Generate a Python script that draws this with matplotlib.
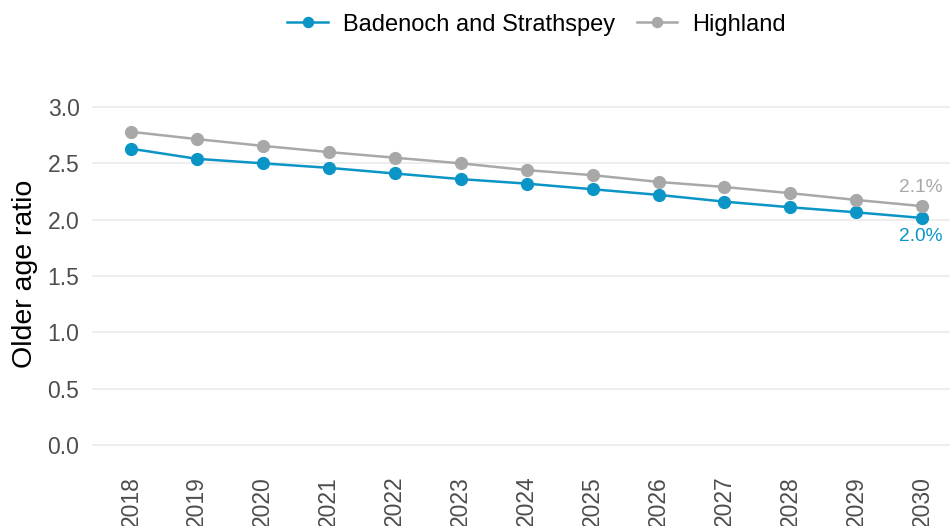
import matplotlib
matplotlib.use("Agg")
import matplotlib.pyplot as plt

years = list(range(2018, 2031))
badenoch = [2.63, 2.54, 2.50, 2.46, 2.41, 2.36, 2.32, 2.27, 2.22, 2.16, 2.11, 2.065, 2.015]
highland = [2.78, 2.715, 2.655, 2.60, 2.55, 2.50, 2.44, 2.395, 2.335, 2.29, 2.235, 2.175, 2.12]
series_names = ["Badenoch and Strathspey", "Highland"]
end_labels = ["2.0%", "2.1%"]
yticks = [0.0, 0.5, 1.0, 1.5, 2.0, 2.5, 3.0]

blue = "#0a95c6"
grey = "#a8a8a8"

plt.rcParams['font.family'] = ['Liberation Sans', 'DejaVu Sans']

fig = plt.figure(figsize=(9.52, 5.26), dpi=100)
ax = fig.add_axes([92/952, 1-461.9/526, (950-92)/952, (461.9-90.1)/526])

ax.plot(years, badenoch, color=blue, lw=1.8, marker='o', ms=8.5, label=series_names[0])
ax.plot(years, highland, color=grey, lw=1.8, marker='o', ms=8.5, label=series_names[1])

ax.text(years[-1] + 0.3, badenoch[-1] - 0.09, end_labels[0], color=blue, fontsize=13.8,
        ha='right', va='top')
ax.text(years[-1] + 0.3, highland[-1] + 0.09, end_labels[1], color=grey, fontsize=13.8,
        ha='right', va='bottom')

ax.set_xlim(2017.41, 2030.42)
ax.set_ylim(-0.15, 3.15)
ax.set_yticks(yticks)
ax.set_yticklabels([f"{v:.1f}" for v in yticks])
ax.set_xticks(years)
ax.set_xticklabels([str(y) for y in years], rotation=90)
ax.grid(axis='y', color='#ebebeb', lw=1.2)
ax.set_axisbelow(True)
for s in ax.spines.values():
    s.set_visible(False)
ax.tick_params(axis='both', length=0, labelsize=16.5, labelcolor='#4d4d4d')
ax.tick_params(axis='y', pad=9)
ax.tick_params(axis='x', pad=10)
ax.set_ylabel("Older age ratio", fontsize=20.5, color='black')
ax.yaxis.set_label_coords((38 - 92) / 858, (461.9 - 274) / 371.8)

leg = fig.legend(loc='upper center', bbox_to_anchor=(0.5636, 1.0145), ncol=2, frameon=False,
                 fontsize=17, handlelength=1.7, columnspacing=0.93, handletextpad=0.64,
                 markerscale=0.85)

fig.savefig("out.png", dpi=100)
